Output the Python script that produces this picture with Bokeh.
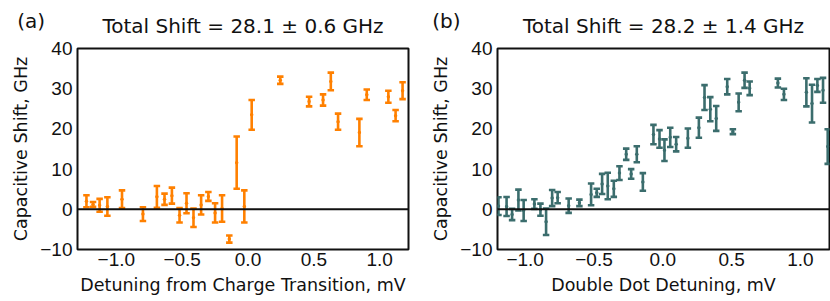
import numpy as np
from bokeh.plotting import figure
from bokeh.layouts import row
from bokeh.models import FixedTicker, Span, Title, ColumnDataSource
from bokeh.embed import file_html
from bokeh.resources import INLINE

# ---- Panel (a): detuning from charge transition ----
xa = [-1.227, -1.177, -1.127, -1.068, -0.957, -0.798, -0.692, -0.634, -0.578, -0.520,
      -0.467, -0.414, -0.356, -0.301, -0.250, -0.197, -0.142, -0.086, -0.028, 0.028,
      0.245, 0.464, 0.570, 0.629, 0.684, 0.846, 0.902, 1.066, 1.121, 1.174]
ya = [2.0, 1.2, 1.0, 0.7, 2.5, -1.2, 3.1, 2.5, 3.4, -1.5,
      1.5, -2.1, 1.1, 3.2, -0.9, 0.2, -7.4, 11.6, 0.7, 23.5,
      32.1, 26.8, 27.2, 31.8, 21.8, 19.1, 28.5, 28.0, 23.3, 29.5]
ea = [1.5, 0.6, 1.6, 2.3, 2.2, 1.7, 2.7, 1.4, 2.0, 1.8,
      2.5, 2.3, 2.4, 1.1, 2.4, 3.3, 0.9, 6.5, 4.0, 3.7,
      0.9, 1.2, 1.4, 2.2, 2.0, 3.4, 1.3, 1.5, 1.4, 2.1]

# ---- Panel (b): double dot detuning ----
xb = [-1.194, -1.135, -1.095, -1.049, -1.011, -0.933, -0.889, -0.848, -0.804, -0.764,
      -0.684, -0.606, -0.521, -0.480, -0.441, -0.400, -0.356, -0.315, -0.266, -0.230,
      -0.189, -0.145, -0.068, -0.024, 0.012, 0.054, 0.097, 0.182, 0.262, 0.303,
      0.345, 0.388, 0.468, 0.509, 0.551, 0.594, 0.631, 0.836, 0.880, 1.043,
      1.084, 1.123, 1.164, 1.198]
yb = [0.8, 0.7, -1.3, 2.3, -0.3, 1.3, -0.1, -3.1, 2.8, 2.9,
      0.9, 1.6, 3.7, 4.1, 6.3, 5.8, 5.1, 9.0, 13.7, 8.8,
      13.7, 6.8, 18.6, 17.5, 14.7, 17.9, 16.2, 17.7, 20.3, 27.8,
      24.9, 22.6, 30.5, 19.3, 26.6, 32.1, 30.1, 31.4, 28.6, 29.1,
      26.3, 30.8, 29.6, 15.6]
eb = [2.2, 2.35, 1.4, 2.6, 2.6, 1.2, 1.5, 3.3, 2.0, 1.4,
      1.8, 0.8, 2.7, 1.0, 2.5, 3.3, 2.0, 1.7, 1.4, 1.2,
      2.0, 2.2, 2.4, 2.2, 2.7, 2.4, 1.8, 2.4, 2.5, 3.1,
      3.0, 3.1, 1.9, 0.6, 2.2, 1.9, 1.7, 1.1, 1.4, 3.5,
      4.7, 1.6, 3.1, 4.3]

x_ticks = [-1.0, -0.5, 0.0, 0.5, 1.0]
x_tick_labels = ["\u22121.0", "\u22120.5", "0.0", "0.5", "1.0"]
y_ticks = [-10, 0, 10, 20, 30, 40]
y_tick_labels = ["\u221210", "0", "10", "20", "30", "40"]

titles = ["Total Shift = 28.1 \u00b1 0.6 GHz", "Total Shift = 28.2 \u00b1 1.4 GHz"]
tags = ["(a)", "(b)"]
x_labels = ["Detuning from Charge Transition, mV", "Double Dot Detuning, mV"]
y_label = "Capacitive Shift, GHz"
colors = ["#ff8000", "#3b6d6d"]

LABEL_FONT = "DejaVu Sans"
TICK_FONT = "Liberation Sans"
H = 301


def make_panel(x, y, e, title, tag, xlabel, color, width, bl, br, xr, tag_off):
    x = np.asarray(x, float)
    y = np.asarray(y, float)
    e = np.asarray(e, float)
    src = ColumnDataSource(dict(x=x, y=y, lo=y - e, hi=y + e))
    p = figure(width=width, height=H, x_range=xr, y_range=(-10, 40),
               output_backend="svg", toolbar_location=None,
               min_border_left=bl, min_border_right=br,
               min_border_top=46, min_border_bottom=52)
    p.background_fill_color = "white"
    p.border_fill_color = "white"
    p.grid.visible = False
    p.outline_line_color = "#111111"
    p.outline_line_width = 2
    p.outline_line_alpha = 1.0

    # main title: inner "above" panel (nearest to the frame)
    main_title = Title(text=title, align="center", standoff=22,
                       text_font=LABEL_FONT, text_font_size="20px",
                       text_font_style="normal", text_color="#111111")
    p.add_layout(main_title, "above")

    # panel tag: the plot's own title, outermost, pulled down beside the main title
    p.title.text = tag
    p.title.align = "left"
    p.title.offset = tag_off
    p.title.standoff = -65
    p.title.text_font = LABEL_FONT
    p.title.text_font_size = "20px"
    p.title.text_font_style = "normal"
    p.title.text_color = "#111111"

    for ax in (p.xaxis[0], p.yaxis[0]):
        ax.axis_line_color = None
        ax.major_tick_line_color = None
        ax.minor_tick_line_color = None
        ax.major_tick_out = 0
        ax.major_tick_in = 0
        ax.major_label_text_font = TICK_FONT
        ax.major_label_text_font_size = "19px"
        ax.major_label_text_color = "#111111"
        ax.axis_label_text_font = LABEL_FONT
        ax.axis_label_text_font_size = "17.5px"
        ax.axis_label_text_font_style = "normal"
        ax.axis_label_text_color = "#111111"

    p.xaxis.ticker = FixedTicker(ticks=x_ticks)
    p.xaxis.major_label_overrides = dict(zip(x_ticks, x_tick_labels))
    p.yaxis.ticker = FixedTicker(ticks=y_ticks)
    p.yaxis.major_label_overrides = dict(zip(y_ticks, y_tick_labels))
    p.xaxis.axis_label = xlabel
    p.yaxis.axis_label = y_label
    p.xaxis.major_label_standoff = 3
    p.yaxis.major_label_standoff = 5
    p.xaxis.axis_label_standoff = 6
    p.yaxis.axis_label_standoff = 6

    p.add_layout(Span(location=0, dimension="width", line_color="#111111", line_width=2))

    p.segment(x0="x", y0="lo", x1="x", y1="hi", source=src, line_color=color, line_width=2.6)
    p.scatter(x="x", y="lo", source=src, marker="dash", size=6.5, line_color=color, line_width=2.6)
    p.scatter(x="x", y="hi", source=src, marker="dash", size=6.5, line_color=color, line_width=2.6)
    p.scatter(x="x", y="y", source=src, marker="circle", size=3.5, fill_color=color, line_color=None)
    return p


pa = make_panel(xa, ya, ea, titles[0], tags[0], x_labels[0], colors[0],
                418, 77, 10, (-1.295, 1.219), -60.3)
pb = make_panel(xb, yb, eb, titles[1], tags[1], x_labels[1], colors[1],
                412, 79, 1, (-1.201, 1.211), -65.3)

layout = row(pa, pb)
open("out.html", "w").write(file_html(layout, INLINE))
